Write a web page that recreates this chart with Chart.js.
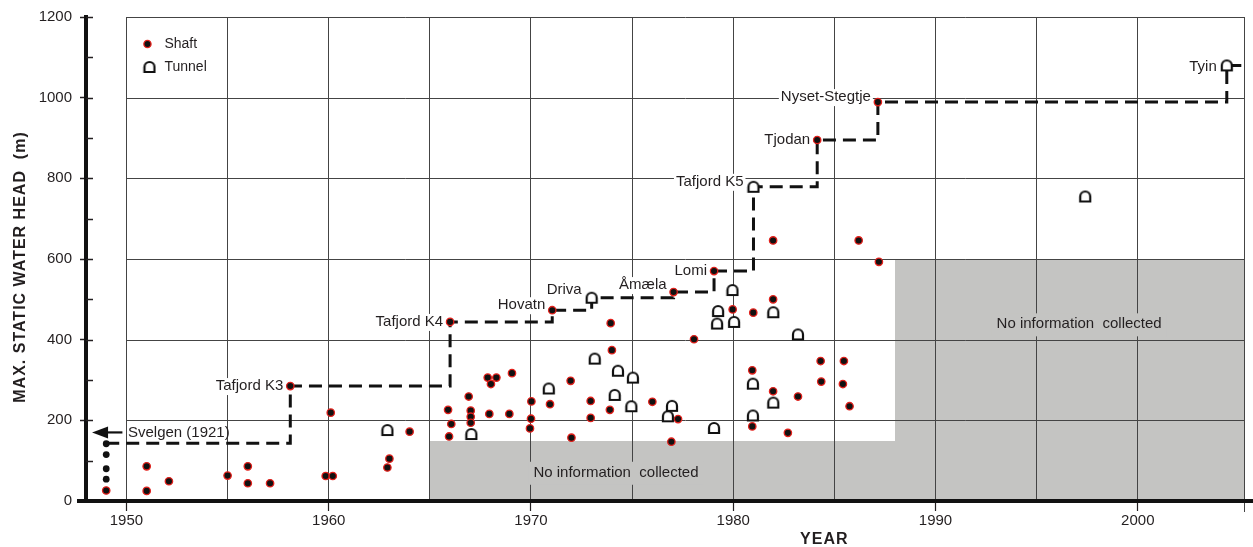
<!DOCTYPE html>
<html>
<head>
<meta charset="utf-8">
<title>Max. static water head by year</title>
<script src="https://cdn.jsdelivr.net/npm/chart.js@4.4.1/dist/chart.umd.min.js"></script>
<style>
  html, body { margin: 0; background: #fff; }
  canvas { display: block; }
</style>
</head>
<body>
<canvas id="chart" width="1253" height="547"></canvas>
<script>
// Unlined shafts and tunnels: max. static water head vs. year of completion.

const xMin = 1948, xMax = 2005.3;
const gridYears = [1950, 1955, 1960, 1965, 1970, 1975, 1980, 1985, 1990, 1995, 2000];
const headTicks = [0, 200, 400, 600, 800, 1000, 1200];
const minorHeadTicks = [100, 300, 500, 700, 900, 1100];

const shaftYears = [
  1949.0, 1951.0, 1951.0, 1952.1, 1955.0, 1956.0, 1956.0, 1957.1, 1959.85, 1960.1, 1960.2, 1962.9, 1963.0, 1964.0,
  1965.9, 1965.95, 1966.06, 1966.92, 1967.02, 1967.02, 1967.02, 1967.86, 1967.94, 1968.02, 1968.29, 1968.93, 1969.06,
  1969.95, 1970.0, 1970.02, 1970.94, 1971.96, 1972.0, 1972.95, 1972.95, 1973.9, 1973.94, 1974.0, 1976.0, 1976.94,
  1977.27, 1978.06, 1979.97, 1980.94, 1980.94, 1980.99, 1981.97, 1981.97, 1981.97, 1982.7, 1983.2, 1984.32, 1984.35,
  1985.42, 1985.47, 1985.75, 1986.2, 1987.2
];
const shaftHeads = [
  26, 86, 25, 49, 63, 86, 44, 44, 62, 219, 62, 83, 105, 172,
  226, 160, 191, 259, 224, 209, 194, 306, 216, 290, 306, 216, 317,
  180, 204, 247, 240, 298, 157, 248, 206, 226, 441, 374, 246, 147,
  203, 401, 475, 324, 185, 467, 646, 500, 272, 169, 259, 347, 296,
  290, 347, 235, 646, 593
];

const tunnelYears = [
  1962.9, 1967.05, 1970.88, 1973.15, 1974.14, 1974.3, 1974.96, 1975.04, 1976.77, 1976.97,
  1979.05, 1979.2, 1979.25, 1979.96, 1980.04, 1980.97, 1980.97, 1981.98, 1981.98, 1983.2, 1997.4
];
const tunnelHeads = [
  176, 166, 279, 353, 263, 323, 235, 306, 210, 236,
  181, 440, 471, 523, 444, 291, 212, 468, 244, 413, 755
];

// plain black dots below Svelgen at 1949
const olderYears = [1949, 1949, 1949, 1949];
const olderHeads = [54, 80, 115, 142];

// record heads (dashed step line)
const recordNames = ['Tafjord K3', 'Tafjord K4', 'Hovatn', 'Driva', 'Åmæla', 'Lomi', 'Tafjord K5', 'Tjodan', 'Nyset-Stegtje', 'Tyin'];
const recordYears = [1958.1, 1966.0, 1971.05, 1973.0, 1977.05, 1979.05, 1981.0, 1984.15, 1987.15, 2004.4];
const recordHeads = [285, 444, 473, 504, 518, 570, 779, 895, 989, 1080];
const recordTypes = ['shaft', 'shaft', 'shaft', 'tunnel', 'shaft', 'shaft', 'tunnel', 'shaft', 'shaft', 'tunnel'];
const recordStartYear = 1949, recordStartHead = 143;
const svelgenLabel = 'Svelgen (1921)', svelgenHead = 170;

// grey "no information" areas
const noInfoFrom = [1965, 1988];
const noInfoTo = [1988, 2005.3];
const noInfoTop = [150, 600];
const noInfoText = 'No information  collected';

// ---- styling ----
const FONT = '"Liberation Sans", Arial, Helvetica, sans-serif';
const INK = '#231f20', GRID = '#444', GRAY = '#c4c4c2', RED = '#e3201b';
const recordLabelLift = [0, 0, -5, -8, -7, 0, -5, 0, -5, 1];
const noInfoLabelYears = [1974.2, 1997.1], noInfoLabelHeads = [70, 438];
const arrowFromYear = 1949.8, arrowToYear = 1948.3;
const yearTitleAt = 1984.5;

Chart.defaults.font.family = FONT;
Chart.defaults.color = INK;

function tunnelIcon() {
  const c = document.createElement('canvas');
  c.width = 14; c.height = 14;
  const g = c.getContext('2d');
  g.lineWidth = 2.2; g.strokeStyle = '#111'; g.fillStyle = '#fff';
  g.beginPath();
  g.moveTo(2, 12); g.lineTo(2, 7); g.arc(7, 7, 5, Math.PI, 0); g.lineTo(12, 12); g.closePath();
  g.fill(); g.stroke();
  return c;
}
const tunnelImg = tunnelIcon();

const pts = (xs, ys) => xs.map((x, i) => ({ x, y: ys[i] }));
const recordsOf = t => recordYears.map((x, i) => ({ x, y: recordHeads[i], t: recordTypes[i] })).filter(p => p.t === t);

const stepData = [{ x: recordStartYear, y: recordStartHead }, ...pts(recordYears, recordHeads),
  { x: xMax, y: recordHeads[recordHeads.length - 1] }];

function boxedText(ctx, text, x, y, align, bg, padX, up, down) {
  const w = ctx.measureText(text).width;
  const left = align === 'right' ? x - w : align === 'center' ? x - w / 2 : x;
  ctx.fillStyle = bg;
  ctx.fillRect(left - padX, y - up, w + 2 * padX, up + down);
  ctx.fillStyle = INK;
  ctx.textAlign = align;
  ctx.fillText(text, x, y);
}

const decor = {
  id: 'decor',
  beforeDraw(chart) {
    const { ctx, chartArea: a, scales: { x, y } } = chart;
    ctx.save();
    ctx.fillStyle = GRAY;
    noInfoFrom.forEach((f, i) => {
      const l = Math.round(x.getPixelForValue(f));
      const r = Math.round(Math.min(x.getPixelForValue(noInfoTo[i]), a.right));
      const t = Math.round(y.getPixelForValue(noInfoTop[i]));
      ctx.fillRect(l, t, r - l, Math.round(a.bottom) - t);
    });
    // horizontal grid starts at the 1950 line
    ctx.strokeStyle = GRID; ctx.lineWidth = 1;
    const x0 = Math.round(x.getPixelForValue(gridYears[0]));
    headTicks.slice(1).forEach(v => {
      const py = Math.round(y.getPixelForValue(v)) + 0.5;
      ctx.beginPath(); ctx.moveTo(x0, py); ctx.lineTo(a.right, py); ctx.stroke();
    });
    ctx.restore();
  },
  beforeDatasetsDraw(chart) {
    const { ctx, chartArea: a, scales: { x, y } } = chart;
    ctx.save();
    // right frame, running down past the axis
    ctx.strokeStyle = GRID; ctx.lineWidth = 1;
    ctx.beginPath(); ctx.moveTo(Math.round(a.right) - 0.5, a.top); ctx.lineTo(Math.round(a.right) - 0.5, a.bottom + 11); ctx.stroke();
    // inner part of major ticks + minor ticks
    ctx.strokeStyle = INK; ctx.lineWidth = 1.5;
    [...headTicks.slice(1), ...minorHeadTicks].forEach(v => {
      const py = Math.round(y.getPixelForValue(v)) + 0.5;
      ctx.beginPath(); ctx.moveTo(a.left, py); ctx.lineTo(a.left + 7, py); ctx.stroke();
    });
    ctx.font = '15px ' + FONT;
    ctx.textBaseline = 'middle';
    noInfoLabelYears.forEach((yr, i) => {
      boxedText(ctx, noInfoText, x.getPixelForValue(yr), y.getPixelForValue(noInfoLabelHeads[i]), 'center', GRAY, 5, 11, 12);
    });
    ctx.restore();
  },
  afterDatasetsDraw(chart) {
    const { ctx, chartArea: a, scales: { x, y } } = chart;
    ctx.save();
    ctx.font = '15px ' + FONT;
    ctx.textBaseline = 'middle';
    recordNames.forEach((name, i) => {
      const gap = recordTypes[i] === 'tunnel' ? 10 : 7;
      const px = x.getPixelForValue(recordYears[i]) - gap;
      const py = y.getPixelForValue(recordHeads[i]) + recordLabelLift[i];
      boxedText(ctx, name, px, py, 'right', '#fff', 2, 8, 9);
    });

    // Svelgen arrow
    const ay = y.getPixelForValue(svelgenHead);
    const tip = x.getPixelForValue(arrowToYear), tail = x.getPixelForValue(arrowFromYear);
    ctx.strokeStyle = '#111'; ctx.fillStyle = '#111'; ctx.lineWidth = 2.2;
    ctx.beginPath(); ctx.moveTo(tail, ay); ctx.lineTo(tip + 10, ay); ctx.stroke();
    ctx.beginPath(); ctx.moveTo(tip, ay); ctx.lineTo(tip + 16, ay - 6); ctx.lineTo(tip + 16, ay + 6); ctx.closePath(); ctx.fill();
    ctx.fillStyle = INK; ctx.textAlign = 'left';
    ctx.fillText(svelgenLabel, x.getPixelForValue(gridYears[0]) + 1.5, ay);

    // legend
    const lx = x.getPixelForValue(gridYears[0]) + 21, ly = a.top + 27;
    ctx.beginPath(); ctx.arc(lx, ly, 3.6, 0, Math.PI * 2);
    ctx.fillStyle = '#111'; ctx.fill(); ctx.strokeStyle = RED; ctx.lineWidth = 1.3; ctx.stroke();
    ctx.drawImage(tunnelImg, lx + 2 - 7, ly + 23 - 7);
    ctx.font = '14px ' + FONT; ctx.fillStyle = INK; ctx.textAlign = 'left';
    ctx.fillText('Shaft', lx + 17, ly);
    ctx.fillText('Tunnel', lx + 17, ly + 23);

    // thick bottom axis
    ctx.strokeStyle = '#111'; ctx.lineWidth = 4;
    ctx.beginPath(); ctx.moveTo(a.left - 9, a.bottom); ctx.lineTo(chart.width, a.bottom); ctx.stroke();

    // axis titles
    ctx.font = 'bold 16px ' + FONT;
    ctx.letterSpacing = '1px';
    ctx.fillStyle = INK; ctx.textAlign = 'center';
    ctx.fillText('YEAR', x.getPixelForValue(yearTitleAt), a.bottom + 39);
    ctx.translate(21, (a.top + a.bottom) / 2 + 8);
    ctx.rotate(-Math.PI / 2);
    ctx.fillText('MAX. STATIC WATER HEAD  (m)', 0, 0);
    ctx.restore();
  }
};

new Chart(document.getElementById('chart'), {
  type: 'scatter',
  data: {
    datasets: [
      {
        label: 'Record',
        data: stepData,
        showLine: true,
        stepped: 'before',
        borderColor: '#111',
        borderWidth: 3,
        borderDash: [13, 7],
        pointRadius: 0,
        order: 5
      },
      {
        label: 'Older',
        data: pts(olderYears, olderHeads),
        pointRadius: 3.4,
        pointBackgroundColor: '#111',
        pointBorderColor: '#111',
        pointBorderWidth: 0,
        order: 1
      },
      {
        label: 'Shaft',
        data: [...pts(shaftYears, shaftHeads), ...recordsOf('shaft')],
        pointRadius: 3.7,
        pointBackgroundColor: '#111',
        pointBorderColor: RED,
        pointBorderWidth: 1.3,
        order: 1
      },
      {
        label: 'Tunnel',
        data: [...pts(tunnelYears, tunnelHeads), ...recordsOf('tunnel')],
        pointStyle: tunnelImg,
        pointRadius: 7,
        order: 0
      }
    ]
  },
  options: {
    responsive: false,
    animation: false,
    events: [],
    layout: { padding: { top: 15, right: 7, left: 0, bottom: 0 } },
    plugins: { legend: { display: false }, tooltip: { enabled: false } },
    scales: {
      x: {
        type: 'linear',
        min: xMin,
        max: xMax,
        afterFit: s => { s.height = 46; },
        afterBuildTicks: s => { s.ticks = gridYears.map(v => ({ value: v })); },
        ticks: {
          autoSkip: false,
          maxRotation: 0,
          padding: 1,
          font: { size: 15 },
          color: INK,
          callback: v => (v % 10 === 0 ? String(v) : '')
        },
        grid: {
          color: GRID,
          lineWidth: 1,
          tickLength: 10,
          tickWidth: 1.2,
          tickColor: c => (c.tick && c.tick.value % 10 === 0 ? INK : 'rgba(0,0,0,0)')
        },
        border: { display: false }
      },
      y: {
        type: 'linear',
        position: 'left',
        min: 0,
        max: 1200,
        afterFit: s => { s.width = 86; },
        ticks: { stepSize: 200, padding: 8, font: { size: 15 }, color: INK, callback: v => String(v) },
        grid: { drawOnChartArea: false, tickLength: 6, tickWidth: 1.5, tickColor: INK },
        border: { display: true, color: '#111', width: 4 }
      }
    }
  },
  plugins: [decor]
});
</script>
</body>
</html>
